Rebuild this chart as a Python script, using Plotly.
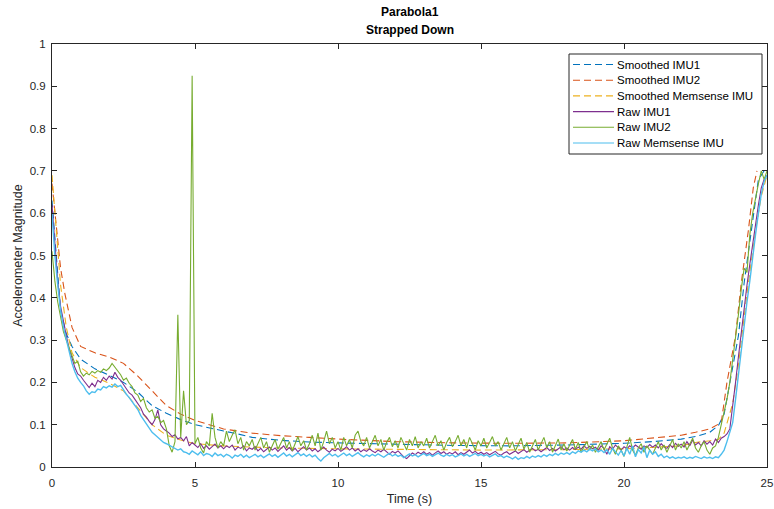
import numpy as np
import plotly.graph_objects as go

# ---- raw samples, 10 Hz from 0 to 25 s ----
t_raw = np.round(np.arange(251) * 0.1, 1)

raw_imu1 = [
    0.62, 0.52, 0.44, 0.38, 0.34, 0.31, 0.28, 0.255, 0.235, 0.22,
    0.215, 0.205, 0.195, 0.188, 0.198, 0.19, 0.205, 0.2, 0.212, 0.205,
    0.215, 0.208, 0.224, 0.212, 0.205, 0.196, 0.185, 0.175, 0.17, 0.16,
    0.15, 0.14, 0.125, 0.118, 0.108, 0.1, 0.112, 0.135, 0.1, 0.09,
    0.085, 0.08, 0.072, 0.076, 0.066, 0.07, 0.062, 0.072, 0.05, 0.058,
    0.052, 0.046, 0.055, 0.044, 0.05, 0.042, 0.048, 0.054, 0.045, 0.05,
    0.043, 0.05, 0.046, 0.052, 0.04, 0.047, 0.044, 0.05, 0.038, 0.045,
    0.042, 0.048, 0.038, 0.044, 0.036, 0.042, 0.047, 0.04, 0.045, 0.037,
    0.043, 0.05, 0.04, 0.046, 0.038, 0.044, 0.036, 0.042, 0.048, 0.04,
    0.045, 0.038, 0.043, 0.036, 0.041, 0.047, 0.04, 0.035, 0.042, 0.038,
    0.044, 0.037, 0.042, 0.048, 0.04, 0.045, 0.038, 0.043, 0.036, 0.041,
    0.037, 0.043, 0.038, 0.034, 0.04, 0.036, 0.042, 0.035, 0.03, 0.037,
    0.033, 0.038, 0.03, 0.024, 0.02, 0.027, 0.033, 0.029, 0.035, 0.031,
    0.036, 0.03, 0.034, 0.028, 0.033, 0.038, 0.032, 0.036, 0.03, 0.034,
    0.031, 0.036, 0.029, 0.034, 0.03, 0.035, 0.04, 0.033, 0.037, 0.031,
    0.035, 0.03, 0.034, 0.029, 0.033, 0.037, 0.031, 0.028, 0.033, 0.036,
    0.03, 0.034, 0.038, 0.032, 0.036, 0.041, 0.035, 0.039, 0.044, 0.038,
    0.042, 0.036, 0.041, 0.046, 0.039, 0.044, 0.038, 0.043, 0.048, 0.041,
    0.045, 0.04, 0.046, 0.041, 0.047, 0.042, 0.05, 0.044, 0.049, 0.043,
    0.047, 0.04, 0.05, 0.044, 0.03, 0.048, 0.042, 0.052, 0.045, 0.04,
    0.048, 0.043, 0.05, 0.045, 0.052, 0.047, 0.042, 0.05, 0.046, 0.053,
    0.047, 0.052, 0.045, 0.055, 0.048, 0.044, 0.053, 0.046, 0.056, 0.049,
    0.054, 0.047, 0.06, 0.05, 0.064, 0.052, 0.058, 0.05, 0.062, 0.054,
    0.06, 0.052, 0.066, 0.058, 0.068, 0.072, 0.078, 0.09, 0.14, 0.2,
    0.26, 0.32, 0.38, 0.43, 0.48, 0.53, 0.58, 0.62, 0.66, 0.68,
    0.69,
]

raw_imu2 = [
    0.51, 0.44, 0.39, 0.35, 0.32, 0.30, 0.28, 0.26, 0.245, 0.25,
    0.225, 0.215, 0.222, 0.218, 0.226, 0.222, 0.228, 0.224, 0.232, 0.228,
    0.234, 0.245, 0.236, 0.228, 0.218, 0.205, 0.21, 0.198, 0.19, 0.175,
    0.17, 0.155, 0.162, 0.14, 0.13, 0.135, 0.115, 0.12, 0.105, 0.11,
    0.09, 0.05, 0.035, 0.06, 0.36, 0.07, 0.18, 0.1, 0.11, 0.925,
    0.055, 0.07, 0.045, 0.033, 0.06, 0.05, 0.127, 0.07, 0.045, 0.06,
    0.05, 0.085, 0.06, 0.075, 0.088, 0.055, 0.07, 0.04, 0.06, 0.05,
    0.065, 0.04, 0.055, 0.07, 0.045, 0.06, 0.035, 0.05, 0.065, 0.042,
    0.058, 0.07, 0.045, 0.06, 0.038, 0.055, 0.072, 0.05, 0.062, 0.04,
    0.055, 0.075, 0.05, 0.08, 0.04, 0.06, 0.085, 0.055, 0.07, 0.045,
    0.06, 0.04, 0.07, 0.05, 0.065, 0.045, 0.075, 0.085, 0.06, 0.05,
    0.07, 0.045, 0.06, 0.075, 0.05, 0.065, 0.04, 0.058, 0.07, 0.048,
    0.062, 0.045, 0.07, 0.055, 0.04, 0.065, 0.05, 0.072, 0.045, 0.06,
    0.05, 0.068, 0.045, 0.06, 0.075, 0.05, 0.062, 0.04, 0.058, 0.07,
    0.048, 0.06, 0.075, 0.05, 0.065, 0.045, 0.07, 0.055, 0.04, 0.062,
    0.05, 0.068, 0.045, 0.058, 0.072, 0.05, 0.06, 0.04, 0.055, 0.07,
    0.045, 0.06, 0.038, 0.055, 0.068, 0.042, 0.058, 0.035, 0.05, 0.065,
    0.04, 0.055, 0.07, 0.045, 0.06, 0.035, 0.052, 0.066, 0.04, 0.055,
    0.038, 0.05, 0.065, 0.042, 0.058, 0.035, 0.048, 0.06, 0.04, 0.052,
    0.035, 0.048, 0.06, 0.04, 0.055, 0.068, 0.045, 0.03, 0.05, 0.04,
    0.025, 0.05, 0.07, 0.04, 0.028, 0.045, 0.055, 0.035, 0.05, 0.04,
    0.03, 0.045, 0.06, 0.04, 0.052, 0.035, 0.05, 0.065, 0.04, 0.055,
    0.045, 0.06, 0.04, 0.055, 0.068, 0.045, 0.035, 0.05, 0.06, 0.04,
    0.03, 0.045, 0.05, 0.07, 0.1, 0.13, 0.16, 0.2, 0.25, 0.3,
    0.36, 0.42, 0.47, 0.46, 0.55, 0.6, 0.64, 0.67, 0.70, 0.68,
    0.70,
]

raw_memsense = [
    0.60, 0.50, 0.43, 0.37, 0.33, 0.30, 0.27, 0.245, 0.225, 0.21,
    0.200, 0.192, 0.180, 0.172, 0.178, 0.176, 0.184, 0.182, 0.190, 0.187,
    0.192, 0.189, 0.196, 0.190, 0.193, 0.182, 0.172, 0.164, 0.154, 0.146,
    0.136, 0.122, 0.112, 0.101, 0.092, 0.082, 0.076, 0.070, 0.062, 0.058,
    0.055, 0.051, 0.046, 0.044, 0.040, 0.043, 0.036, 0.034, 0.030, 0.038,
    0.033, 0.029, 0.036, 0.027, 0.032, 0.030, 0.025, 0.033, 0.027, 0.030,
    0.024, 0.030, 0.027, 0.021, 0.028, 0.025, 0.030, 0.023, 0.028, 0.022,
    0.026, 0.030, 0.024, 0.028, 0.022, 0.027, 0.031, 0.025, 0.029, 0.023,
    0.028, 0.033, 0.026, 0.030, 0.024, 0.029, 0.034, 0.027, 0.031, 0.025,
    0.030, 0.024, 0.028, 0.020, 0.014, 0.022, 0.028, 0.032, 0.026, 0.030,
    0.024, 0.029, 0.033, 0.027, 0.031, 0.025, 0.030, 0.034, 0.028, 0.024,
    0.029, 0.025, 0.030, 0.026, 0.031, 0.027, 0.023, 0.028, 0.032, 0.026,
    0.030, 0.025, 0.028, 0.022, 0.027, 0.031, 0.026, 0.029, 0.024, 0.028,
    0.032, 0.027, 0.030, 0.025, 0.029, 0.033, 0.028, 0.025, 0.030, 0.026,
    0.029, 0.024, 0.027, 0.031, 0.026, 0.030, 0.025, 0.028, 0.032, 0.027,
    0.030, 0.026, 0.029, 0.024, 0.028, 0.031, 0.025, 0.027, 0.022, 0.026,
    0.023, 0.019, 0.024, 0.018, 0.022, 0.020, 0.025, 0.021, 0.026, 0.023,
    0.027, 0.024, 0.029, 0.025, 0.030, 0.027, 0.032, 0.028, 0.033, 0.030,
    0.034, 0.030, 0.036, 0.032, 0.038, 0.035, 0.040, 0.036, 0.042, 0.038,
    0.043, 0.036, 0.040, 0.034, 0.041, 0.030, 0.044, 0.035, 0.028, 0.039,
    0.026, 0.045, 0.030, 0.050, 0.024, 0.041, 0.033, 0.048, 0.022, 0.040,
    0.030, 0.036, 0.025, 0.030, 0.022, 0.026, 0.021, 0.024, 0.020, 0.023,
    0.021, 0.024, 0.020, 0.023, 0.021, 0.025, 0.022, 0.020, 0.024, 0.021,
    0.023, 0.020, 0.024, 0.022, 0.030, 0.040, 0.060, 0.085, 0.105, 0.160,
    0.220, 0.280, 0.340, 0.390, 0.440, 0.500, 0.550, 0.600, 0.645, 0.675,
    0.690,
]

# ---- smoothed curves (own time bases) ----
t_smooth_imu1 = [0, 0.1, 0.2, 0.3, 0.5, 0.7, 1.0, 1.5, 2.0, 2.5, 3.0, 3.5, 4.0,
                 4.5, 5.0, 5.5, 6.0, 6.5, 7.0, 8.0, 9.0, 10, 12, 14, 16, 18,
                 20, 21, 22, 22.5, 23, 23.3, 23.5, 23.7, 24.0, 24.2, 24.45,
                 24.7, 24.9]
smooth_imu1 = [0.63, 0.54, 0.45, 0.37, 0.315, 0.285, 0.255, 0.232, 0.217, 0.2,
               0.177, 0.145, 0.127, 0.112, 0.1, 0.092, 0.085, 0.078, 0.07,
               0.063, 0.059, 0.057, 0.054, 0.051, 0.05, 0.052, 0.056, 0.06,
               0.066, 0.072, 0.082, 0.098, 0.125, 0.2, 0.31, 0.435, 0.56,
               0.68, 0.70]

t_smooth_imu2 = [0, 0.1, 0.2, 0.3, 0.45, 0.7, 1.0, 1.5, 2.0, 2.5, 3.0, 3.5, 4.0,
                 4.5, 5.0, 5.5, 6.0, 7.0, 8.0, 9.0, 10, 12, 14, 16, 18, 20, 21,
                 22, 22.5, 23, 23.4, 23.6, 23.9, 24.1, 24.35, 24.52, 24.65]
smooth_imu2 = [0.67, 0.6, 0.53, 0.47, 0.41, 0.33, 0.285, 0.27, 0.26, 0.245,
               0.215, 0.18, 0.145, 0.125, 0.11, 0.1, 0.09, 0.08, 0.074, 0.07,
               0.066, 0.06, 0.057, 0.056, 0.057, 0.062, 0.068, 0.075, 0.082,
               0.09, 0.105, 0.2, 0.31, 0.435, 0.56, 0.66, 0.70]

t_smooth_mems = [0, 0.1, 0.2, 0.3, 0.5, 0.7, 1.0, 1.5, 2.0, 2.5, 3.0, 3.5, 4.0,
                 4.5, 5.0, 6.0, 7.0, 8.0, 10, 12, 15, 18, 20, 22, 22.5, 23,
                 23.3, 23.5, 23.8, 24.0, 24.3, 24.6, 24.8, 25]
smooth_mems = [0.69, 0.6, 0.5, 0.43, 0.33, 0.27, 0.235, 0.212, 0.198, 0.18,
               0.14, 0.1, 0.075, 0.064, 0.055, 0.05, 0.047, 0.045, 0.043,
               0.042, 0.04, 0.041, 0.043, 0.05, 0.058, 0.062, 0.065, 0.08,
               0.15, 0.24, 0.41, 0.56, 0.64, 0.69]

series_names = ["Smoothed IMU1", "Smoothed IMU2", "Smoothed Memsense IMU",
                "Raw IMU1", "Raw IMU2", "Raw Memsense IMU"]

BLUE, ORANGE, YELLOW = "#0072BD", "#D95319", "#EDB120"
PURPLE, GREEN, CYAN = "#7E2F8E", "#77AC30", "#4DBEEE"
INK = "#262626"
FONT = "Liberation Sans, Arial, Helvetica, sans-serif"
DASH = "7px,4px"

styles = [
    dict(color=BLUE, width=1.1, dash=DASH),
    dict(color=ORANGE, width=1.1, dash=DASH),
    dict(color=YELLOW, width=1.1, dash=DASH),
    dict(color=PURPLE, width=1.1),
    dict(color=GREEN, width=1.1),
    dict(color=CYAN, width=1.4),
]
xs = [t_smooth_imu1, t_smooth_imu2, t_smooth_mems, t_raw, t_raw, t_raw]
ys = [smooth_imu1, smooth_imu2, smooth_mems, raw_imu1, raw_imu2, raw_memsense]

fig = go.Figure()
for x, y, name, st in zip(xs, ys, series_names, styles):
    fig.add_trace(go.Scatter(x=x, y=y, mode="lines", name=name, line=st,
                             showlegend=False))

# ---- plot box geometry (pixels) ----
W, H = 774, 509
L, R, T, B = 52, 7, 44, 42
PW, PH = W - L - R, H - T - B


def px(xp):
    return (xp - L) / PW


def py(yp):
    return (H - B - yp) / PH


# ---- boxed legend in the upper right, compact rows ----
shapes = [dict(type="rect", xref="paper", yref="paper",
               x0=px(569), x1=px(762), y0=py(154), y1=py(54),
               line=dict(color=INK, width=1), fillcolor="white", layer="above")]
annotations = []
row0, row_gap = 64.5, 15.7
for i, (name, st) in enumerate(zip(series_names, styles)):
    yc = row0 + i * row_gap
    shapes.append(dict(type="line", xref="paper", yref="paper",
                       x0=px(573), x1=px(614), y0=py(yc), y1=py(yc),
                       line=dict(color=st["color"], width=1.1,
                                 dash=st.get("dash", "solid")),
                       layer="above"))
    annotations.append(dict(text=name, xref="paper", yref="paper",
                            x=px(615), y=py(yc), xanchor="left",
                            yanchor="middle", showarrow=False,
                            font=dict(family=FONT, size=11.5, color="black")))

# ---- two-line bold title ----
annotations.append(dict(text="<b>Parabola1</b>", xref="paper", yref="paper",
                        x=0.5, y=py(12), xanchor="center", yanchor="middle",
                        showarrow=False,
                        font=dict(family=FONT, size=12, color="black")))
annotations.append(dict(text="<b>Strapped Down</b>", xref="paper", yref="paper",
                        x=0.5, y=py(30), xanchor="center", yanchor="middle",
                        showarrow=False,
                        font=dict(family=FONT, size=12, color="black")))

axis_common = dict(
    showline=True, linecolor=INK, linewidth=1, mirror="ticks",
    ticks="inside", ticklen=5, tickcolor=INK, tickwidth=1,
    showgrid=False, zeroline=False, automargin=False,
    tickfont=dict(family=FONT, size=11.5, color=INK),
)

fig.update_layout(
    width=W, height=H,
    margin=dict(l=L, r=R, t=T, b=B, autoexpand=False),
    paper_bgcolor="white", plot_bgcolor="white",
    font=dict(family=FONT, color=INK, size=11),
    xaxis=dict(range=[0, 25], tickvals=[0, 5, 10, 15, 20, 25],
               ticklabelstandoff=5,
               title=dict(text="Time (s)",
                          font=dict(family=FONT, size=12.5, color=INK),
                          standoff=6),
               **axis_common),
    yaxis=dict(range=[0, 1], tickvals=[i / 10 for i in range(11)],
               ticktext=["0", "0.1", "0.2", "0.3", "0.4", "0.5", "0.6", "0.7",
                         "0.8", "0.9", "1"],
               ticklabelstandoff=3,
               title=dict(text="Accelerometer Magnitude",
                          font=dict(family=FONT, size=12.5, color=INK),
                          standoff=4),
               **axis_common),
    shapes=shapes,
    annotations=annotations,
    showlegend=False,
)

fig.write_html("out.html")
